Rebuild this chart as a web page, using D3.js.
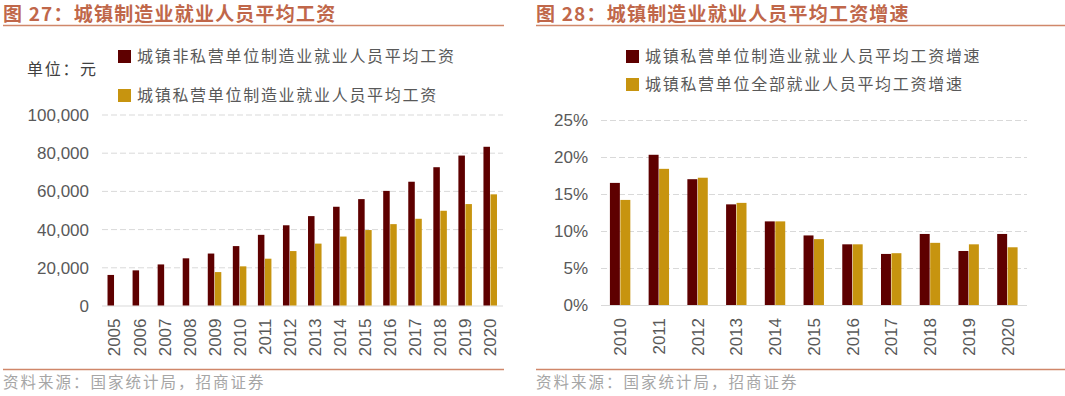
<!DOCTYPE html>
<html><head><meta charset="utf-8">
<script src="https://cdn.jsdelivr.net/npm/d3@7"></script>
<style>
html,body{margin:0;padding:0;background:#fff;}
svg{display:block;}
</style></head>
<body>
<svg id="c" width="1065" height="396"></svg>
<script>
// ---- data ----
const yearsL = ["2005","2006","2007","2008","2009","2010","2011","2012","2013","2014","2015","2016","2017","2018","2019","2020"];
const nonPrivateWage = [16000,18400,21500,24700,27200,31100,37000,42000,46800,51700,55700,60000,64800,72400,78500,83100];
const privateWage    = [null,null,null,null,17500,20500,24500,28500,32400,36100,39500,42600,45400,49600,53100,58200];
const seriesL = ["城镇非私营单位制造业就业人员平均工资","城镇私营单位制造业就业人员平均工资"];
const ticksL = [0,20000,40000,60000,80000,100000];

const yearsR = ["2010","2011","2012","2013","2014","2015","2016","2017","2018","2019","2020"];
const privMfgGrowth = [16.5,20.3,17.0,13.6,11.3,9.4,8.2,6.9,9.6,7.3,9.6];
const privAllGrowth = [14.2,18.4,17.2,13.8,11.3,8.9,8.2,7.0,8.4,8.2,7.8];
const seriesR = ["城镇私营单位制造业就业人员平均工资增速","城镇私营单位全部就业人员平均工资增速"];
const ticksR = [0,5,10,15,20,25];

const titleL = "图 27：城镇制造业就业人员平均工资";
const titleR = "图 28：城镇制造业就业人员平均工资增速";
const source = "资料来源：国家统计局，招商证券";
const unitL = "单位：元";

// ---- style ----
const DARK = "#5E0000", GOLD = "#C7940F";
const TITLEC = "#C0674A", LINEC = "#D0876A";
const CJK = "'Noto Sans CJK SC', sans-serif";
const NUM = "'Liberation Sans', Arial, sans-serif";
const svg = d3.select("#c");

function frame(x0, x1, title){
  svg.append("text").attr("x", x0).attr("y", 21).text(title)
    .attr("font-family", CJK).attr("font-weight", "bold").attr("font-size", 19)
    .attr("letter-spacing", 1.2).attr("fill", TITLEC);
  svg.append("line").attr("x1", x0).attr("x2", x1).attr("y1", 25.5).attr("y2", 25.5)
    .attr("stroke", LINEC).attr("stroke-width", 1.5);
  svg.append("line").attr("x1", x0).attr("x2", x1).attr("y1", 369.5).attr("y2", 369.5)
    .attr("stroke", LINEC).attr("stroke-width", 1.5);
  svg.append("text").attr("x", x0).attr("y", 388).text(source)
    .attr("font-family", CJK).attr("font-size", 15.5).attr("letter-spacing", 2)
    .attr("fill", "#A6A6A6");
}

function legend(x, ys, names){
  const cols = [DARK, GOLD];
  names.forEach((n,i)=>{
    svg.append("rect").attr("x", x).attr("y", ys[i]-6.5).attr("width", 13).attr("height", 13).attr("fill", cols[i]);
    svg.append("text").attr("x", x+19).attr("y", ys[i]).attr("dy","0.36em").text(n)
      .attr("font-family", CJK).attr("font-size", 16).attr("letter-spacing", 1.7).attr("fill", "#595959");
  });
}

function chart(o){
  const x0 = d3.scaleBand().domain(o.cats).range([o.left, o.right]);
  const bw = x0.bandwidth();
  const x1 = d3.scaleBand().domain([0,1]).range([bw*o.inner, bw*(1-o.inner)]);
  const y = d3.scaleLinear().domain(o.domain).range([o.bottom, o.top]);
  const g = svg.append("g");
  // grid
  const ax = d3.axisLeft(y).tickValues(o.ticks).tickSize(-(o.right-o.left)).tickFormat(o.fmt);
  const ga = g.append("g").attr("transform", `translate(${o.left},0)`).call(ax);
  ga.select(".domain").remove();
  ga.selectAll(".tick line").attr("stroke", "#D9D9D9").attr("stroke-dasharray", "6,3").attr("stroke-width", 1);
  ga.selectAll(".tick").filter(d=>d===0).select("line").attr("stroke-dasharray", null);
  ga.selectAll(".tick text").attr("x", o.labelX - o.left).attr("dy","0.35em")
    .attr("font-family", NUM).attr("font-size", 17).attr("fill", "#595959").attr("text-anchor","end");
  // bars
  o.series.forEach((vals, si)=>{
    g.append("g").selectAll("rect").data(o.cats.map((c,i)=>({c, v: vals[i]})).filter(d=>d.v!=null))
      .join("rect")
      .attr("x", d=>x0(d.c)+x1(si)).attr("width", x1.bandwidth()-0.5)
      .attr("y", d=>y(d.v)).attr("height", d=>y(0)-y(d.v))
      .attr("fill", si===0?DARK:GOLD);
  });
  // x labels
  const xa = d3.axisBottom(x0).tickSize(0);
  const gx = g.append("g").attr("transform", `translate(0,${o.bottom})`).call(xa);
  gx.select(".domain").remove();
  gx.selectAll(".tick text")
    .attr("transform", "translate(0,13) rotate(-90)")
    .attr("x", 0).attr("y", 0).attr("dy", "0.35em").attr("text-anchor", "end")
    .attr("font-family", NUM).attr("font-size", 17).attr("fill", "#595959");
}

frame(3, 504, titleL);
frame(536, 1065, titleR);

svg.append("text").attr("x", 27).attr("y", 69).attr("dy","0.36em").text(unitL)
  .attr("font-family", CJK).attr("font-size", 16).attr("letter-spacing", 1.7).attr("fill", "#404040");
legend(118, [56.5, 95.5], seriesL);
legend(626, [56.5, 84.5], seriesR);

chart({cats: yearsL, series:[nonPrivateWage, privateWage], left:102, right:503, top:114.5, bottom:305.5,
  domain:[0,100000], ticks:ticksL, fmt:d3.format(","), labelX:89, inner:0.22});
chart({cats: yearsR, series:[privMfgGrowth, privAllGrowth], left:601, right:1027, top:120, bottom:305,
  domain:[0,25], ticks:ticksR, fmt:d=>d+"%", labelX:588, inner:0.23});
</script>
</body></html>
